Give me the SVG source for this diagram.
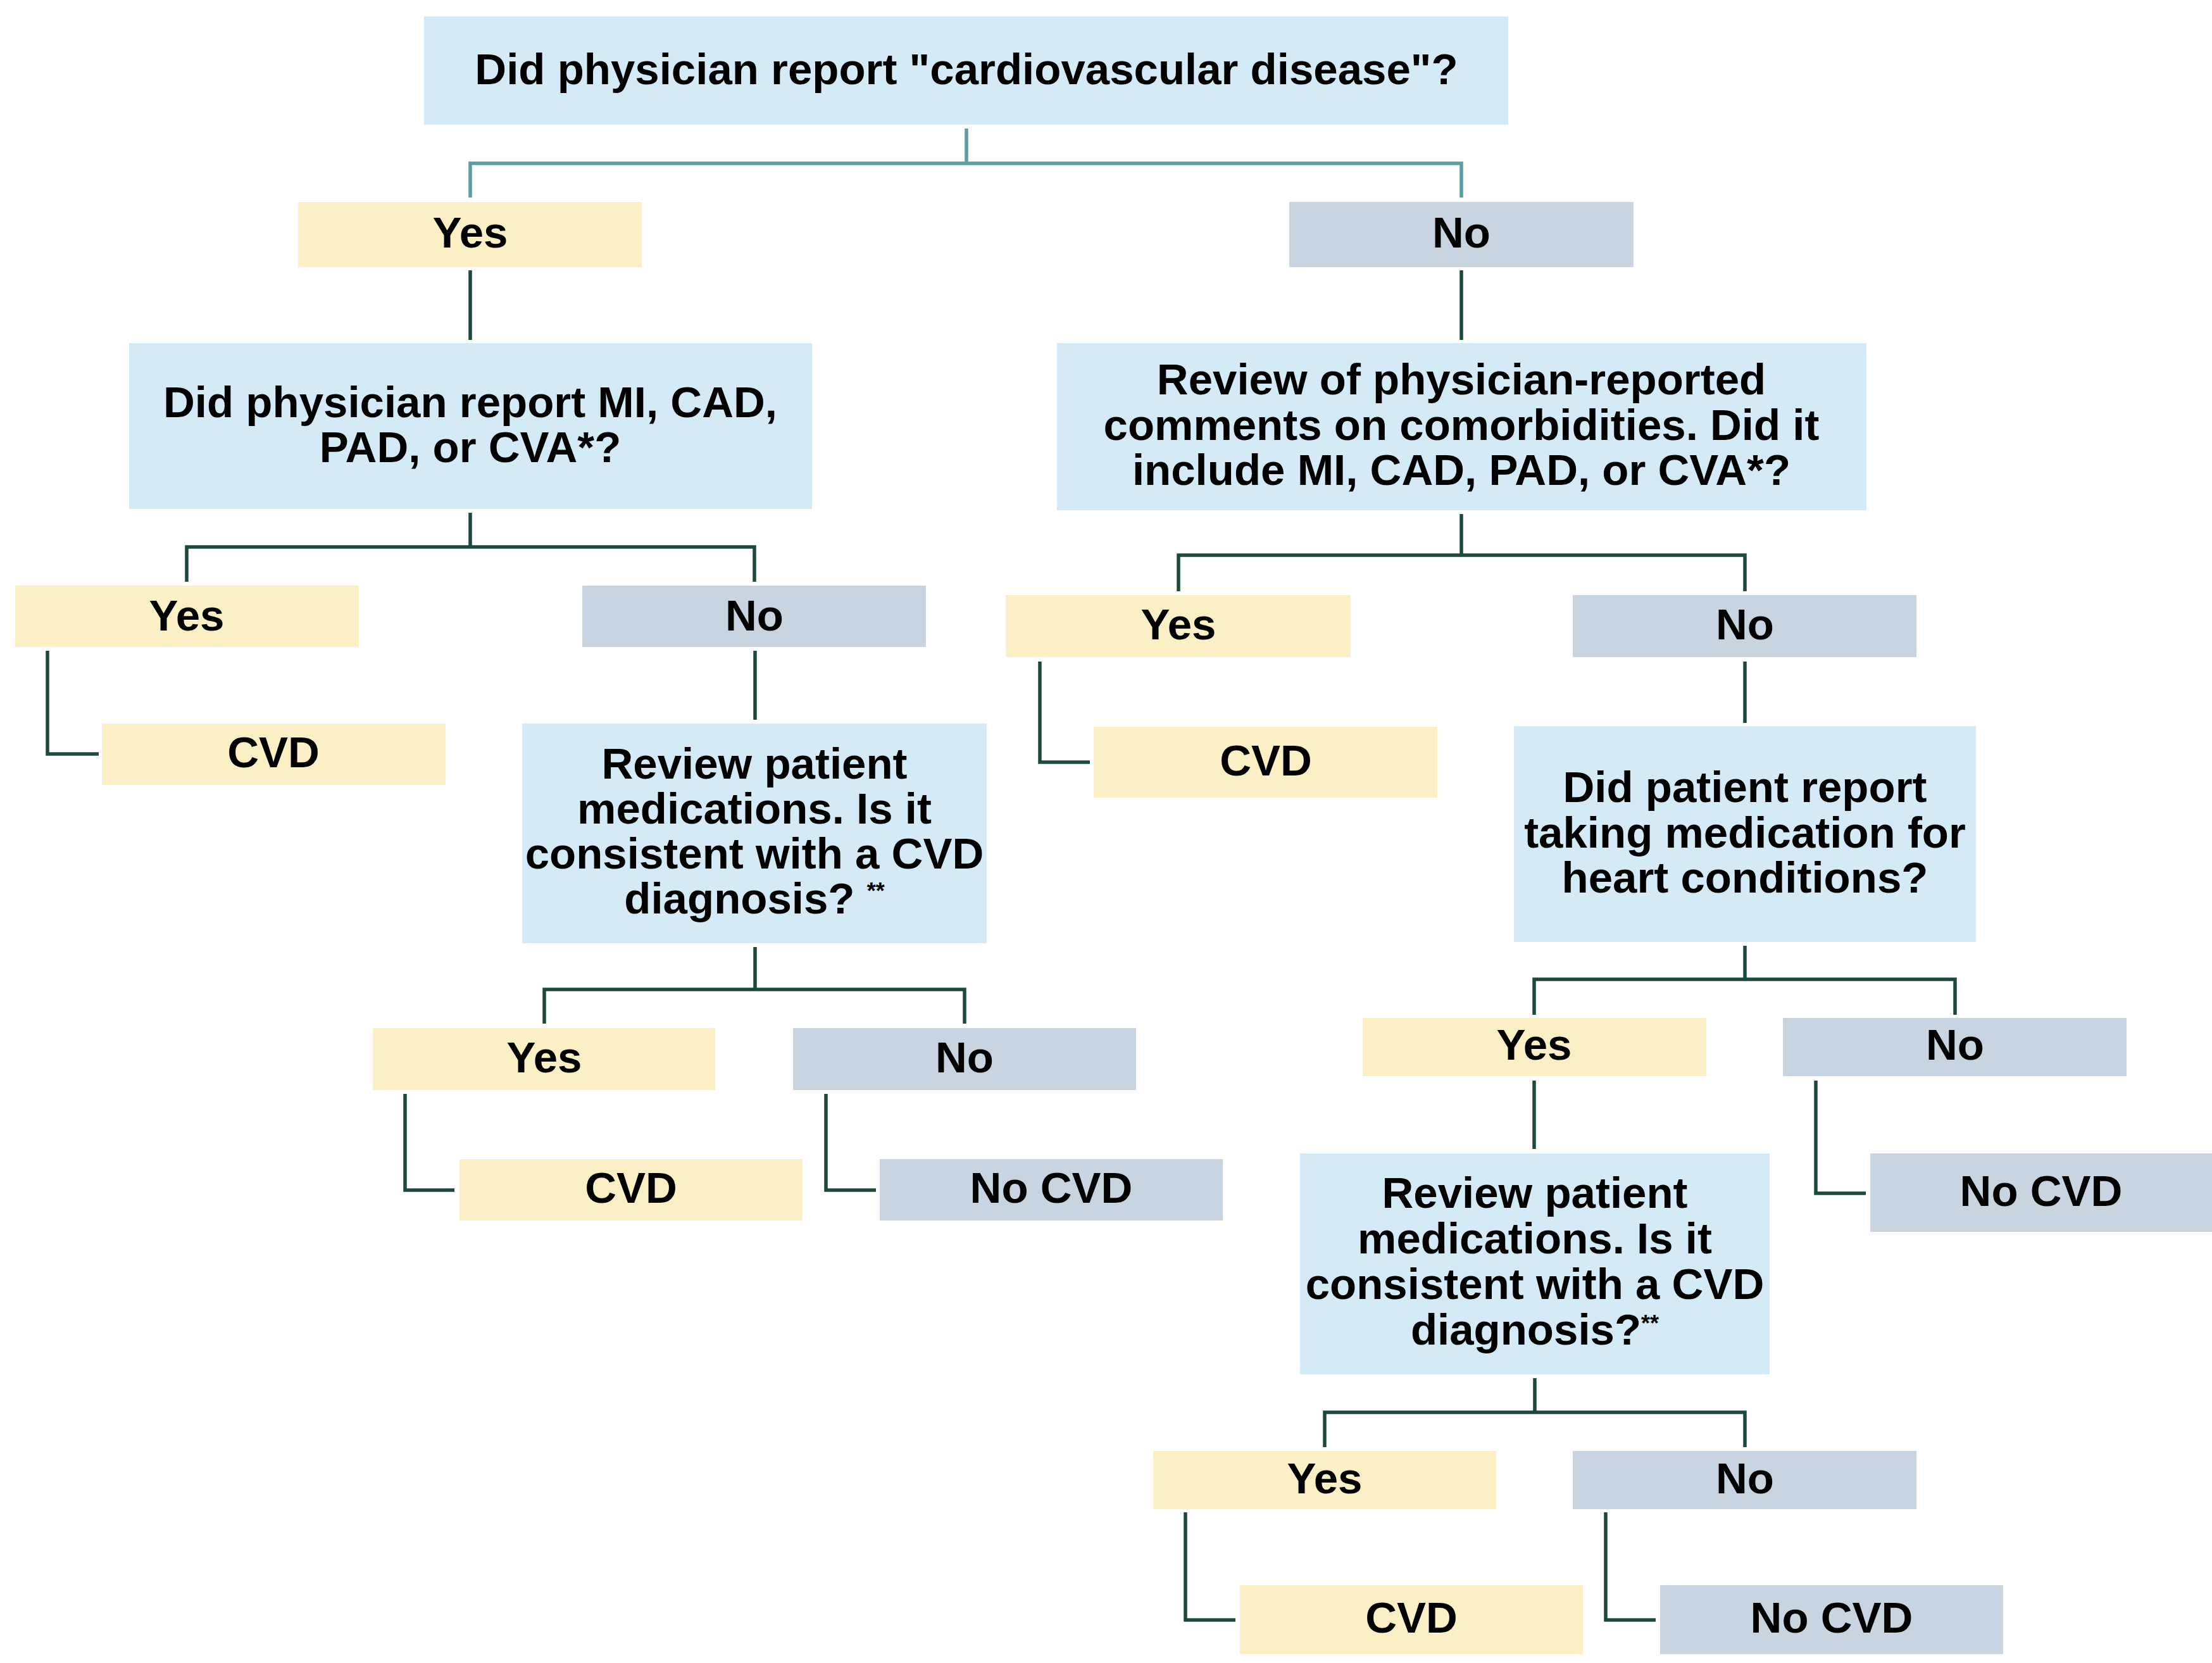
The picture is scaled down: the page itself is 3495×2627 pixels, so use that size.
<svg xmlns="http://www.w3.org/2000/svg" width="3495" height="2627" viewBox="0 0 3495 2627">
<style>
.q{fill:#D4EAF7}
.y{fill:#FBF0C5}
.n{fill:#C8D4E0}
text{font-family:"Liberation Sans",Arial,Helvetica,sans-serif;font-weight:bold;font-size:69px;fill:#000;text-anchor:middle}
.sup{font-size:36px}
.c{fill:none;stroke:#1C4A37;stroke-width:5.5}
.t{fill:none;stroke:#5A9EA2;stroke-width:5.5}
</style>
<rect width="3495" height="2627" fill="#fff"/>
<g id="connectors">
<path class="t" d="M1527,203V258M743,312V258H2309V312"/>
<path class="c" d="M743,427V537M2309,427V537"/>
<path class="c" d="M743,810V864M295,919V864H1192V919"/>
<path class="c" d="M2309,812V877M1862,934V877H2757V934"/>
<path class="c" d="M75,1028V1191H156"/>
<path class="c" d="M1643,1045V1204H1722"/>
<path class="c" d="M1193,1028V1137"/>
<path class="c" d="M2757,1045V1142"/>
<path class="c" d="M1193,1496V1563M860,1617V1563H1524V1617"/>
<path class="c" d="M640,1728V1880H718"/>
<path class="c" d="M1305,1728V1880H1384"/>
<path class="c" d="M2757,1494V1547M2424,1603V1547H3089V1603"/>
<path class="c" d="M2424,1707V1815"/>
<path class="c" d="M2869,1707V1885H2948"/>
<path class="c" d="M2425,2177V2231M2093,2286V2231H2757V2286"/>
<path class="c" d="M1873,2389V2559H1952"/>
<path class="c" d="M2537,2389V2559H2616"/>
</g>
<g id="q1"><rect class="q" x="670" y="26" width="1713" height="171"/><text x="1527" y="133">Did physician report "cardiovascular disease"?</text></g>
<g id="yes1"><rect class="y" x="471" y="319" width="543" height="103"/><text x="743" y="391">Yes</text></g>
<g id="no1"><rect class="n" x="2037" y="319" width="544" height="103"/><text x="2309" y="391">No</text></g>
<g id="q2"><rect class="q" x="204" y="542" width="1079" height="262"/><text x="743" y="659">Did physician report MI, CAD,</text><text x="743" y="730">PAD, or CVA*?</text></g>
<g id="q3"><rect class="q" x="1670" y="542" width="1279" height="264"/><text x="2309" y="623">Review of physician-reported</text><text x="2309" y="695">comments on comorbidities. Did it</text><text x="2309" y="766">include MI, CAD, PAD, or CVA*?</text></g>
<g id="yes2"><rect class="y" x="24" y="925" width="543" height="97"/><text x="295" y="996">Yes</text></g>
<g id="no2"><rect class="n" x="920" y="925" width="543" height="97"/><text x="1192" y="996">No</text></g>
<g id="yes3"><rect class="y" x="1589" y="940" width="545" height="98"/><text x="1862" y="1010">Yes</text></g>
<g id="no3"><rect class="n" x="2485" y="940" width="543" height="98"/><text x="2757" y="1010">No</text></g>
<g id="cvd1"><rect class="y" x="161" y="1143" width="543" height="97"/><text x="432" y="1212">CVD</text></g>
<g id="cvd2"><rect class="y" x="1728" y="1148" width="543" height="112"/><text x="2000" y="1225">CVD</text></g>
<g id="q4"><rect class="q" x="825" y="1143" width="734" height="347"/><text x="1192" y="1230">Review patient</text><text x="1192" y="1301">medications. Is it</text><text x="1192" y="1372">consistent with a CVD</text><text x="1192" y="1443">diagnosis? <tspan class="sup" dy="-23">**</tspan></text></g>
<g id="q5"><rect class="q" x="2392" y="1147" width="730" height="341"/><text x="2757" y="1267">Did patient report</text><text x="2757" y="1339">taking medication for</text><text x="2757" y="1410">heart conditions?</text></g>
<g id="yes4"><rect class="y" x="589" y="1624" width="541" height="98"/><text x="860" y="1694">Yes</text></g>
<g id="no4"><rect class="n" x="1253" y="1624" width="542" height="98"/><text x="1524" y="1694">No</text></g>
<g id="yes5"><rect class="y" x="2153" y="1608" width="543" height="92"/><text x="2424" y="1674">Yes</text></g>
<g id="no5"><rect class="n" x="2817" y="1608" width="543" height="92"/><text x="3089" y="1674">No</text></g>
<g id="cvd3"><rect class="y" x="726" y="1831" width="542" height="97"/><text x="997" y="1900">CVD</text></g>
<g id="nocvd1"><rect class="n" x="1390" y="1831" width="542" height="97"/><text x="1661" y="1900">No CVD</text></g>
<g id="q6"><rect class="q" x="2054" y="1822" width="742" height="349"/><text x="2425" y="1908">Review patient</text><text x="2425" y="1980">medications. Is it</text><text x="2425" y="2052">consistent with a CVD</text><text x="2425" y="2124">diagnosis?<tspan class="sup" dy="-21">**</tspan></text></g>
<g id="nocvd2"><rect class="n" x="2955" y="1822" width="540" height="124"/><text x="3225" y="1905">No CVD</text></g>
<g id="yes6"><rect class="y" x="1822" y="2292" width="542" height="92"/><text x="2093" y="2359">Yes</text></g>
<g id="no6"><rect class="n" x="2485" y="2292" width="543" height="92"/><text x="2757" y="2359">No</text></g>
<g id="cvd4"><rect class="y" x="1959" y="2504" width="542" height="109"/><text x="2230" y="2579">CVD</text></g>
<g id="nocvd3"><rect class="n" x="2623" y="2504" width="542" height="109"/><text x="2894" y="2579">No CVD</text></g>
</svg>
